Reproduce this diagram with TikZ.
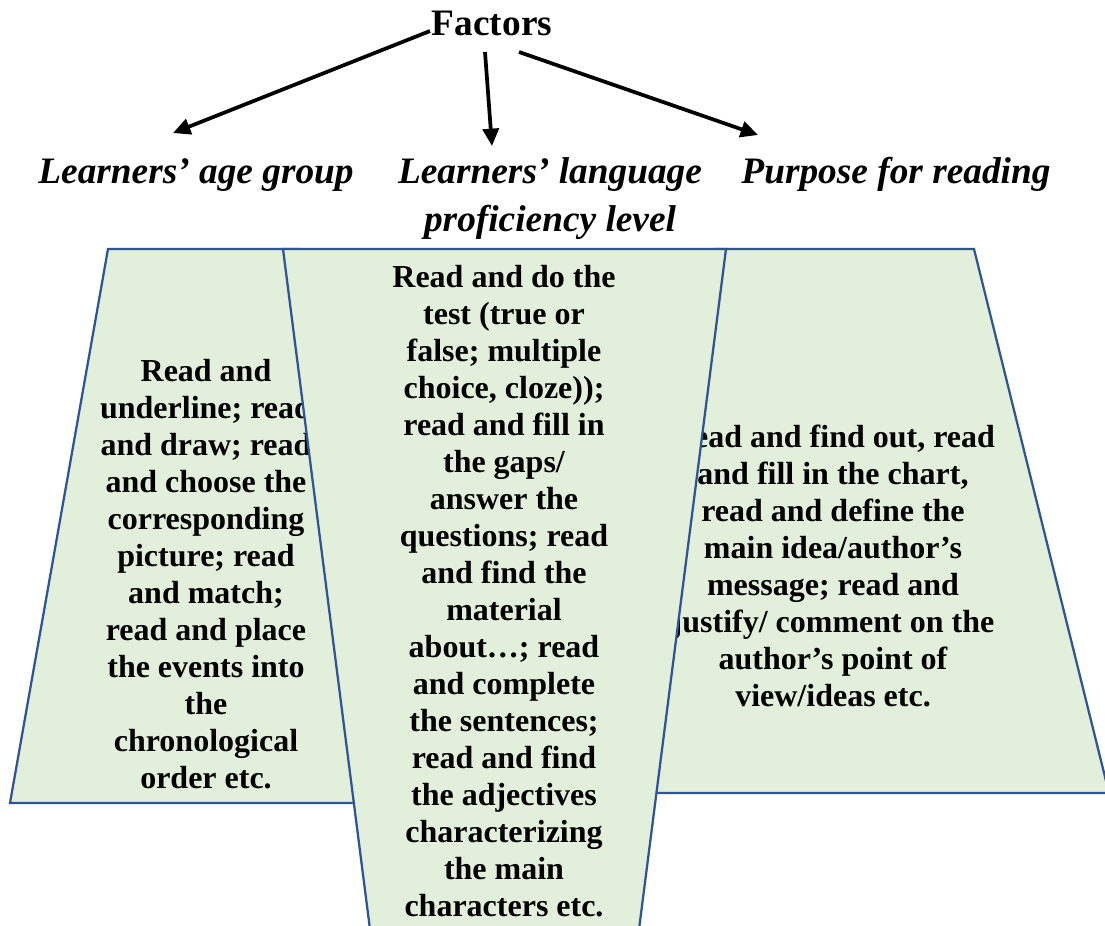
\documentclass[tikz,border=0pt]{standalone}
\usepackage{fontspec}
\setmainfont{Liberation Serif}
\usetikzlibrary{arrows.meta}
\definecolor{boxfill}{HTML}{E2EFDA}
\definecolor{boxline}{HTML}{2F5597}

\begin{document}
\begin{tikzpicture}[x=0.75pt,y=-0.75pt,
  panel/.style={fill=boxfill,draw=boxline,line width=1.7pt,line join=miter},
  paneltext/.style={font=\fontsize{24}{27.75}\selectfont\bfseries,align=center,anchor=base,inner sep=0pt},
  factor/.style={font=\fontsize{28}{36}\selectfont\bfseries\itshape,align=center,anchor=base,inner sep=0pt},
  arr/.style={line width=2.8pt,-{Triangle[length=13pt,width=12pt]}}]
\useasboundingbox (0,0) rectangle (1105,925);
\clip (0,0) rectangle (1105,925);

% left panel: learners' age group (text placed by its last baseline)
\path[panel] (108,249) -- (300,249) -- (365,803) -- (10,803) -- cycle;
\node[paneltext] (tleft) at (206,788) {Read and\\underline; read\\and draw; read\\and choose the\\corresponding\\picture; read\\and match;\\read and place\\the events into\\the\\chronological\\order etc.};

% right panel: purpose for reading
\path[panel] (715,249) -- (974,249) -- (1109,793) -- (640,793) -- cycle;
\node[paneltext] (tright) at (833,706) {Read and find out, read\\and fill in the chart,\\read and define the\\main idea/author’s\\message; read and\\justify/ comment on the\\author’s point of\\view/ideas etc.};

% middle panel: language proficiency level (runs past the lower edge)
\path[panel] (283,249) -- (726,249) -- (637,945) -- (372,945) -- cycle;
\node[paneltext] (tmid) at (504,916) {Read and do the\\test (true or\\false; multiple\\choice, cloze));\\read and fill in\\the gaps/\\answer the\\questions; read\\and find the\\material\\about…; read\\and complete\\the sentences;\\read and find\\the adjectives\\characterizing\\the main\\characters etc.};

% heading and the three factors
\node[font=\fontsize{28}{34}\selectfont\bfseries,anchor=base,inner sep=0pt] (fac) at (492,35) {Factors};
\node[factor] (lage) at (196,183) {Learners’ age group};
\node[factor] (llang) at (550,231) {Learners’ language\\proficiency level};
\node[factor] (lpurp) at (896,183) {Purpose for reading};

\coordinate (s1) at (430,31);
\coordinate (s2) at (485,52);
\coordinate (s3) at (519,52);
\coordinate (e1) at (173,133);
\coordinate (e2) at (492,146);
\coordinate (e3) at (758,135);
\draw[arr] (s1) -- (e1);
\draw[arr] (s2) -- (e2);
\draw[arr] (s3) -- (e3);
\end{tikzpicture}
\end{document}
